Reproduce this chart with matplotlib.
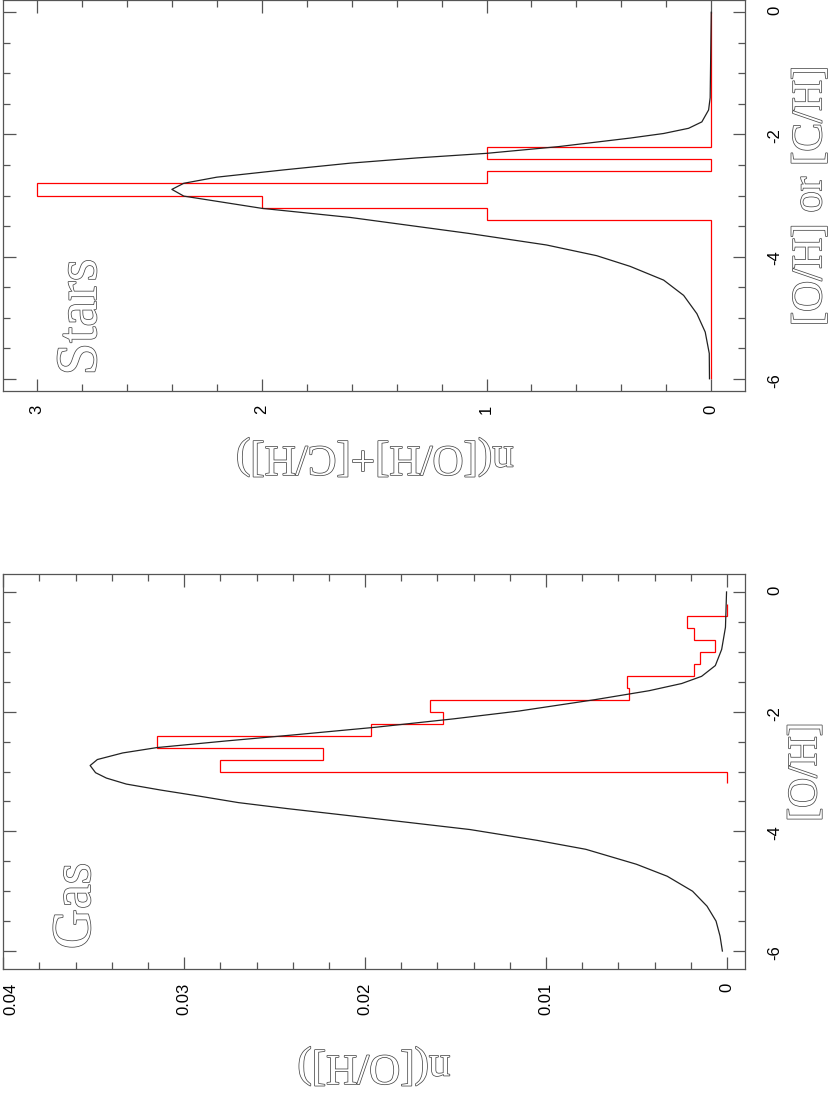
import numpy as np
import matplotlib.pyplot as plt
import matplotlib.patheffects as pe
from matplotlib.ticker import MultipleLocator, FixedLocator, FixedFormatter

plt.rcParams['axes.unicode_minus'] = False

# Gas: histogram of [O/H] (bin width 0.2 dex)
gas_edges = np.linspace(-3.2, -0.2, 16)
gas_hist = [0, 0.028, 0.0223, 0.0315, 0.0197, 0.0157, 0.0164, 0.0054,
            0.0055, 0.0018, 0.0015, 0.00064, 0.0018, 0.0022, 0]

# Gas: model curve
gas_oh = [-6.0, -5.75, -5.5, -5.25, -5.0, -4.75, -4.55, -4.3, -4.15, -3.97,
          -3.83, -3.62, -3.52, -3.41, -3.31, -3.21, -3.11, -3.02, -2.90,
          -2.80, -2.69, -2.60, -2.49, -2.39, -2.26, -2.12, -1.99, -1.80,
          -1.65, -1.53, -1.41, -1.23, -0.96, -0.59, 0.0]
gas_n = [0.00025, 0.00038, 0.0006, 0.0011, 0.0019, 0.0033, 0.0050, 0.0078,
         0.0105, 0.0142, 0.0182, 0.0243, 0.0270, 0.0292, 0.0313, 0.0332,
         0.0343, 0.0349, 0.0352, 0.0348, 0.0334, 0.0315, 0.0277, 0.0240,
         0.0194, 0.0151, 0.0115, 0.0073, 0.0043, 0.0025, 0.0014, 0.00064,
         0.00029, 0.00008, 0.00002]

# Stars: histogram of [O/H] or [C/H]
star_edges = np.linspace(-6.0, 0.0, 31)
star_hist = [0, 0, 0, 0, 0, 0, 0, 0, 0, 0, 0, 0, 0, 1, 2,
             3, 1, 0, 1, 0, 0, 0, 0, 0, 0, 0, 0, 0, 0, 0]

# Stars: model curve
star_oh = [-6.0, -5.585, -5.235, -4.935, -4.635, -4.385, -4.16, -3.985,
           -3.81, -3.62, -3.36, -3.21, -3.01, -2.90, -2.80, -2.70, -2.58,
           -2.47, -2.385, -2.31, -2.20, -2.06, -1.985, -1.90, -1.795, -1.60,
           -1.40, -0.4, 0.0]
star_n = [0.008, 0.009, 0.027, 0.064, 0.123, 0.212, 0.361, 0.51, 0.733,
          1.08, 1.605, 2.0, 2.347, 2.40, 2.347, 2.20, 1.90, 1.605, 1.31,
          1.0, 0.68, 0.361, 0.212, 0.101, 0.042, 0.012, 0.005, 0.0015, 0.0]

W, H = 830, 1114
fig = plt.figure(figsize=(W / 100, H / 100), dpi=100)

def px_axes(x0, y0, x1, y1):
    return fig.add_axes([x0 / W, 1 - y1 / H, (x1 - x0) / W, (y1 - y0) / H])

outline = [pe.Stroke(linewidth=1.1, foreground='#4a4a4a'), pe.Normal()]
axcol = '#555555'

def style(ax, nmajor, nminor, nlabels):
    for s in ax.spines.values():
        s.set_color(axcol)
        s.set_linewidth(0.9)
    ax.xaxis.set_major_locator(FixedLocator(nmajor))
    ax.xaxis.set_major_formatter(FixedFormatter(nlabels))
    ax.xaxis.set_minor_locator(MultipleLocator(nminor))
    ax.yaxis.set_major_locator(FixedLocator([-6, -4, -2, 0]))
    ax.yaxis.set_major_formatter(FixedFormatter(['-6', '-4', '-2', '0']))
    ax.yaxis.set_minor_locator(MultipleLocator(0.5))
    ax.tick_params(which='both', direction='in', top=True, bottom=True,
                   left=True, right=True, color=axcol, width=0.9)
    ax.tick_params(which='major', length=9)
    ax.tick_params(which='minor', length=4.8)
    ax.tick_params(axis='y', labelleft=False, labelright=True,
                   labelrotation=90, pad=16)
    ax.tick_params(axis='x', labelrotation=90, pad=10)
    for lab in ax.get_xticklabels() + ax.get_yticklabels():
        lab.set_fontfamily('Liberation Sans')
        lab.set_fontsize(12)

# Stars panel (top)
ax1 = px_axes(3.3, 0, 745, 391)
ax1.plot(star_n, star_oh, color='#222222', lw=0.9)
ax1.stairs(star_hist, star_edges, orientation='horizontal', color='red', lw=0.9)
ax1.set_xlim(3.15, -0.15)
ax1.set_ylim(-6.2, 0.2)
style(ax1, [0, 1, 2, 3], 0.2, ['0', '1', '2', '3'])

# Gas panel (bottom)
ax2 = px_axes(3.3, 574, 745, 969)
ax2.plot(gas_n, gas_oh, color='#222222', lw=0.9)
ax2.stairs(gas_hist, gas_edges, orientation='horizontal', color='red', lw=0.9)
ax2.set_xlim(0.04, -0.001)
ax2.set_ylim(-6.3, 0.3)
style(ax2, [0, 0.01, 0.02, 0.03, 0.04], 0.002,
      ['0', '0.01', '0.02', '0.03', '0.04'])
ax2.get_xticklabels()[-1].set_horizontalalignment('left')

# Labels (figure is drawn rotated, so texts are turned 90 / 180 degrees)
def ftext(x, y, s, rot, size):
    fig.text(x / W, 1 - y / H, s, rotation=rot, ha='center', va='center',
             fontsize=size, family='Liberation Serif', color='white',
             path_effects=outline)

ftext(82, 317, 'Stars', 90, 42)
ftext(76, 906, 'Gas', 90, 40)
ftext(375, 457, 'n([O/H]+[C/H])', 180, 31)
ftext(374, 1066, 'n([O/H])', 180, 31)
ftext(811, 196, '[O/H] or [C/H]', 90, 31)
ftext(806, 772, '[O/H]', 90, 30)

fig.savefig('out.png', dpi=100)
